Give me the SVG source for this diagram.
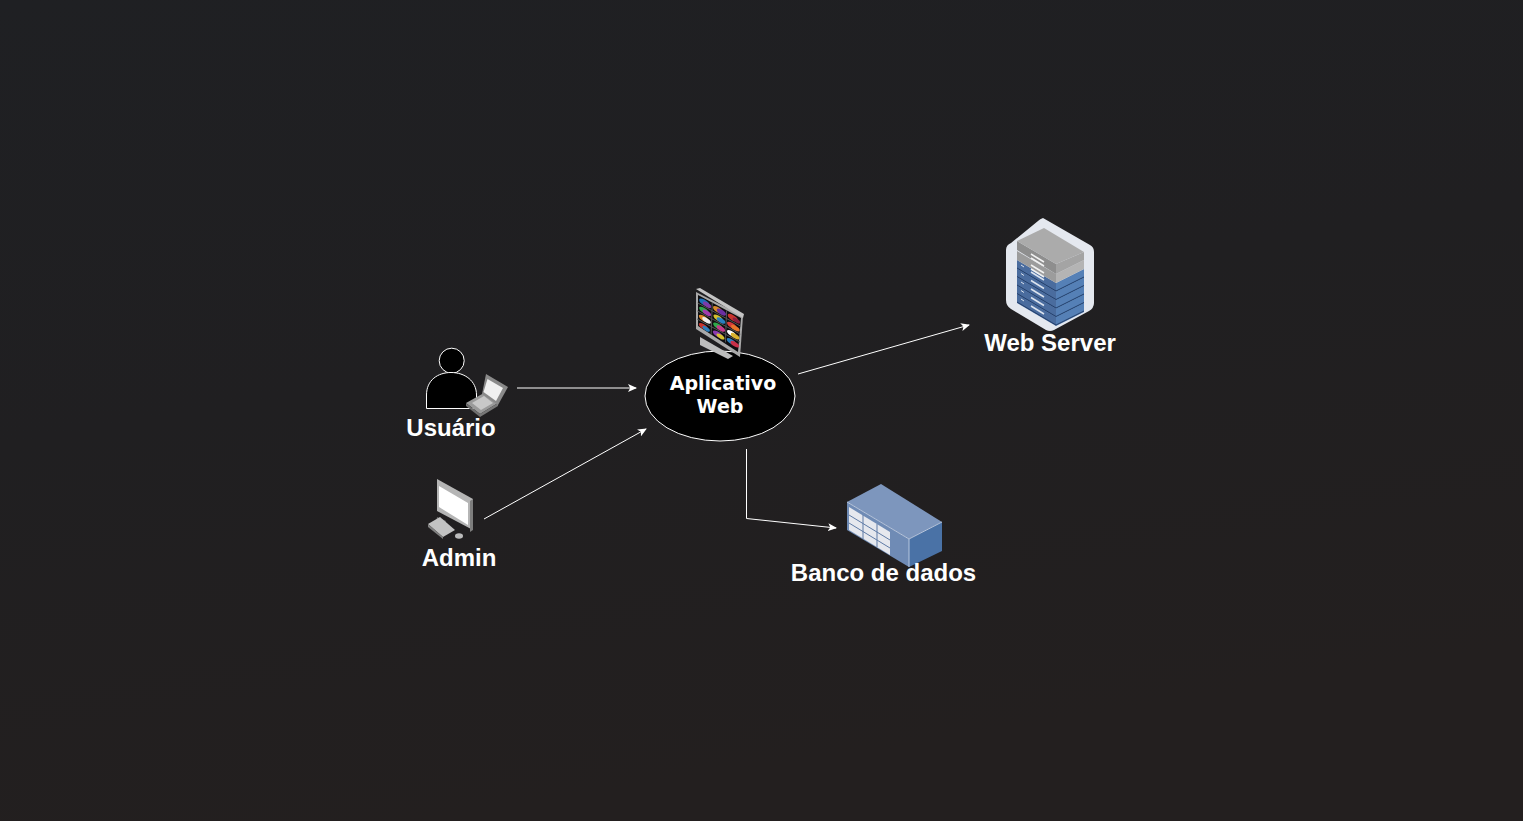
<svg xmlns="http://www.w3.org/2000/svg" width="1523" height="821" viewBox="0 0 1523 821">
<style>
.l{font-family:"Liberation Sans",Arial,sans-serif;font-weight:700;font-size:24px;fill:#fff;text-anchor:middle}
.a{font-family:"DejaVu Sans",sans-serif;font-weight:700;font-size:19px;fill:#fff;text-anchor:middle}
.c{fill:none;stroke:#fff;stroke-width:1;marker-end:url(#m)}
</style>
<defs>
<marker id="m" markerWidth="10" markerHeight="8" refX="8" refY="4" orient="auto" markerUnits="userSpaceOnUse"><path d="M0 0L9 4L0 8L2.2 4Z" fill="#fff"/></marker>
<linearGradient id="bg" x1="0" y1="0" x2="0.3" y2="1"><stop offset="0" stop-color="#1f2023"/><stop offset="0.5" stop-color="#201f21"/><stop offset="1" stop-color="#231f1f"/></linearGradient>
<g id="slab">
<path d="M1017 0L1056 23V32L1017 9Z" fill="#4a6c9e"/>
<path d="M1056 23L1084 9V18L1056 32Z" fill="#5580b6"/>
<path d="M1017 8L1056 31L1084 17" fill="none" stroke="#24406c" stroke-width="1"/>
<path d="M1031 12L1044 20" stroke="#dbe3ee" stroke-width="1.500"/>
<path d="M1021 5L1024 7" stroke="#dbe3ee" stroke-width="1"/>
</g>
</defs>
<rect width="1523" height="821" fill="url(#bg)"/>
<g id="connectors">
<path class="c" d="M517 388H636"/>
<path class="c" d="M484 519L646 429"/>
<path class="c" d="M798 374L969 325"/>
<path class="c" d="M746.500 449V518.500L836 528"/>
</g>
<g id="usuario">
<circle cx="451.700" cy="360.700" r="12.500" fill="#000" stroke="#fff"/>
<path d="M426.500 408.500V395C426.500 380 438 372.500 451 372.500C465 372.500 476.500 381 476.500 395V408.500Z" fill="#000" stroke="#fff"/>
<path d="M466 403L484 393L498 403L480 414Z" fill="#9a9a9a"/>
<path d="M466 403L480 414V417L466 406Z" fill="#6f6f6f"/>
<path d="M480 414L498 403V406L480 417Z" fill="#777"/>
<path d="M472 403L484 396L493 403L481 410Z" fill="#c8c8c8"/>
<path d="M486 374L508 387L498 405L482 394Z" fill="#8a8a8a"/>
<path d="M487.500 379L503 388L496 401L483.500 392Z" fill="#f0f0f0"/>
<text class="l" x="451" y="436">Usuário</text>
</g>
<g id="admin">
<path d="M437 479L473 499V530L437 511Z" fill="#b5b5b5"/>
<path d="M439 486L468 503V525L439 507Z" fill="#fff"/>
<path d="M470 501L473 499V530L470 532Z" fill="#7d7d7d"/>
<path d="M437 517L446 521L443 528L436 524Z" fill="#6d6d6d"/>
<path d="M428 524L440 517L455 530L443 537Z" fill="#c2c2c2"/>
<path d="M428 524L443 537V539L428 527Z" fill="#808080"/>
<ellipse cx="459" cy="536" rx="4" ry="2.800" fill="#bbb"/>
<text class="l" x="459" y="566">Admin</text>
</g>
<g id="webapp">
<ellipse cx="720" cy="396" rx="75" ry="45" fill="#000" stroke="#fff"/>
<path d="M700 337L733 356L728 359L700 345Z" fill="#bdbdbd"/>
<path d="M696 292L743 316L740 357L696 329Z" fill="#a9a9a9"/>
<path d="M696 289L700 288L744 314L743 318Z" fill="#c4c4c4"/>
<path d="M698 295L741 318L738 352L698 326Z" fill="#0d0d0f"/>
<g transform="matrix(14.300 7.700 -0.300 8 698 295)">
<circle cx=".45" cy=".5" r=".36" fill="#1e6fb8"/><circle cx=".65" cy=".6" r=".3" fill="#7e3aa8"/>
<circle cx="1.4" cy=".5" r=".34" fill="#d8892a"/><circle cx="1.65" cy=".55" r=".32" fill="#6b2fa0"/>
<circle cx="2.45" cy=".5" r=".36" fill="#c8342e"/><circle cx="2.7" cy=".6" r=".26" fill="#8c1f3e"/>
<circle cx=".45" cy="1.5" r=".34" fill="#2ea84a"/><circle cx=".65" cy="1.6" r=".3" fill="#a33bb0"/>
<circle cx="1.45" cy="1.5" r=".34" fill="#d5c02e"/><circle cx="1.65" cy="1.6" r=".3" fill="#2a7fbe"/>
<circle cx="2.4" cy="1.5" r=".34" fill="#d53b3b"/><circle cx="2.65" cy="1.6" r=".3" fill="#e8762a"/>
<circle cx=".45" cy="2.5" r=".34" fill="#e08a2a"/><circle cx=".65" cy="2.55" r=".3" fill="#eee"/>
<circle cx="1.45" cy="2.5" r=".34" fill="#2ea84a"/><circle cx="1.65" cy="2.6" r=".3" fill="#c43a8a"/>
<circle cx="2.4" cy="2.5" r=".32" fill="#fff"/><circle cx="2.65" cy="2.6" r=".3" fill="#d9b22e"/>
<circle cx=".45" cy="3.5" r=".32" fill="#c8342e"/><circle cx=".65" cy="3.6" r=".26" fill="#2a7fbe"/>
<circle cx="1.45" cy="3.5" r=".34" fill="#8a3ab0"/><circle cx="1.65" cy="3.6" r=".28" fill="#d5c02e"/>
<circle cx="2.4" cy="3.5" r=".32" fill="#2a7fbe"/><circle cx="2.65" cy="3.6" r=".3" fill="#c83048"/>
<path d="M1 0V4M2 0V4M0 1H3M0 2H3M0 3H3" fill="none" stroke="#555" stroke-width="1" vector-effect="non-scaling-stroke"/>
</g>
<text class="a" x="723" y="390">Aplicativo</text>
<text class="a" x="720" y="413">Web</text>
</g>
<g id="webserver">
<path d="M1043 218L1090 245Q1094 247 1094 252V303Q1094 308 1089 311L1054 330Q1050 332 1046 330L1011 309Q1006 306 1006 300V250Q1006 245 1011 243L1038 221Q1040 219 1043 218Z" fill="#e4e8ef"/>
<use href="#slab" y="294"/>
<use href="#slab" y="285.500"/>
<use href="#slab" y="277"/>
<use href="#slab" y="268.500"/>
<use href="#slab" y="260"/>
<path d="M1017 251L1056 274V283L1017 260Z" fill="#9c9c9c"/>
<path d="M1056 274L1084 260V269L1056 283Z" fill="#b4b4b4"/>
<path d="M1017 241V250L1056 274V264Z" fill="#8e8e8e"/>
<path d="M1056 264L1084 252V260L1056 274Z" fill="#a4a4a4"/>
<path d="M1017 241L1044 228L1084 252L1056 264Z" fill="#ababab"/>
<path d="M1031 254L1044 262M1031 258L1044 266M1031 265L1044 273M1031 269L1044 277" stroke="#f2f2f2" stroke-width="1.500"/>
<text class="l" x="1050" y="351">Web Server</text>
</g>
<g id="database">
<path d="M847 502L881 484L942 522L909 539Z" fill="#7d96bd"/>
<path d="M847 502L909 539V567L847 530Z" fill="#6f8bb5"/>
<path d="M909 539L942 522V551L909 567Z" fill="#4a72a6"/>
<path d="M849 507L890 532V555L849 530Z" fill="#e6e8ee"/>
<path d="M863 515V539M877 524V547M849 515L890 540M849 523L890 548" stroke="#5f7ba6" stroke-width="1" fill="none"/>
<path d="M847 502L909 539L942 522M909 539V567" stroke="#b7c6de" stroke-width="1" fill="none"/>
<text class="l" x="883.500" y="581">Banco de dados</text>
</g>
</svg>
